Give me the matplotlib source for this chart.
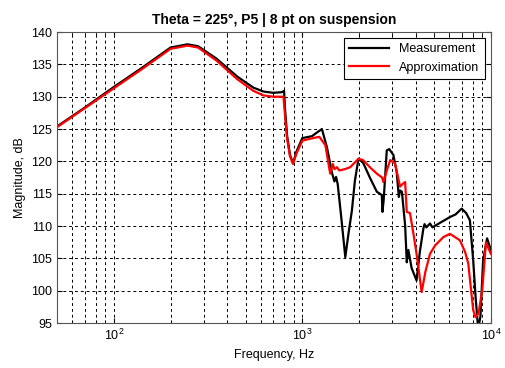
import matplotlib
matplotlib.use("Agg")
import matplotlib.pyplot as plt
from matplotlib.ticker import LogLocator, NullFormatter, MultipleLocator

plt.rcParams['font.family'] = ['Liberation Sans', 'DejaVu Sans']

# measured response
meas_f = [50, 70, 100, 140, 200, 246, 280, 350, 452, 550, 622, 700, 780, 800,
          810, 830, 860, 893, 930, 1000, 1125, 1200, 1270, 1350, 1437, 1480,
          1510, 1540, 1600, 1690, 1760, 1832, 1900, 1985, 2100, 2290, 2485,
          2640, 2660, 2700, 2805, 2890, 3040, 3165, 3250, 3300, 3374, 3510,
          3580, 3650, 3800, 4035, 4200, 4385, 4450, 4550, 4755, 4900, 5160,
          5600, 6070, 6500, 7000, 7400, 7740, 8060, 8300, 8570, 8800, 9100,
          9550, 10000]
meas_db = [125.4, 128.3, 131.5, 134.4, 137.6, 138.1, 137.8, 135.9, 133.1, 131.4,
           130.8, 130.6, 130.7, 130.9, 128.0, 124.0, 121.0, 119.7, 121.5, 123.6,
           123.9, 124.5, 125.0, 122.2, 118.2, 116.9, 117.6, 116.5, 112.0, 105.2,
           109.0, 112.4, 117.0, 120.4, 119.8, 117.4, 115.3, 114.8, 112.2, 114.0,
           121.7, 121.9, 121.0, 118.4, 114.5, 115.5, 115.3, 110.1, 104.4, 106.3,
           103.5, 101.6, 106.0, 109.6, 110.3, 109.8, 110.4, 109.8, 110.2, 110.8,
           111.4, 111.8, 112.7, 112.0, 110.9, 104.7, 99.0, 94.0, 96.0, 104.7,
           108.1, 106.3]

# model fit
approx_f = [50, 70, 100, 140, 200, 246, 280, 350, 452, 550, 622, 700, 794, 810,
            830, 860, 893, 930, 1000, 1100, 1230, 1325, 1405, 1450, 1480, 1527,
            1570, 1680, 1795, 1985, 2100, 2300, 2485, 2650, 2690, 2800, 2925,
            3100, 3300, 3400, 3510, 3580, 3725, 3900, 4035, 4295, 4500, 4755,
            5060, 5600, 6070, 6850, 7300, 7590, 8060, 8300, 8600, 9000, 9420,
            10000]
approx_db = [125.3, 128.2, 131.3, 134.2, 137.4, 137.9, 137.6, 135.6, 132.7, 130.9,
             130.2, 130.0, 130.0, 127.0, 123.5, 120.8, 119.6, 121.2, 123.2, 123.5,
             123.8, 122.5, 118.1, 119.6, 118.8, 119.1, 118.6, 118.8, 119.1, 120.4,
             120.2, 119.0, 118.1, 117.5, 116.8, 118.5, 120.2, 119.7, 116.1, 116.5,
             116.8, 112.2, 112.0, 108.5, 105.7, 99.8, 103.0, 105.7, 107.0, 108.3,
             108.8, 107.8, 106.0, 104.2, 97.0, 95.9, 96.5, 100.1, 107.5, 105.7]

fig = plt.figure(figsize=(5.05, 3.68), dpi=100)
ax = fig.add_axes([0.113, 0.122, 0.859, 0.791])

ax.semilogx(meas_f, meas_db, color='black', lw=1.6, label='Measurement')
ax.semilogx(approx_f, approx_db, color='red', lw=1.6, label='Approximation')

ax.set_xlim(50, 10000)
ax.set_ylim(95, 140)
ax.yaxis.set_major_locator(MultipleLocator(5))
ax.xaxis.set_major_locator(LogLocator(base=10))
ax.xaxis.set_minor_locator(LogLocator(base=10, subs=range(2, 10)))
ax.xaxis.set_minor_formatter(NullFormatter())

ax.grid(True, which='major', color='black', linestyle=(0, (3, 3)), lw=0.7)
ax.grid(True, which='minor', axis='x', color='black', linestyle=(0, (3, 3)), lw=0.7)
ax.tick_params(which='both', direction='in', top=True, right=True, labelsize=9)
ax.tick_params(which='minor', length=2)
for s in ax.spines.values():
    s.set_color('#555555')

ax.set_title('Theta = 225°, P5 | 8 pt on suspension', fontsize=10, fontweight='bold')
ax.set_xlabel('Frequency, Hz', fontsize=9)
ax.set_ylabel('Magnitude, dB', fontsize=9)

leg = ax.legend(loc='upper right', fontsize=9, fancybox=False, framealpha=1,
                edgecolor='black', borderaxespad=0.5, handlelength=3.2)
leg.get_frame().set_linewidth(0.8)

fig.savefig('out.png', dpi=100)
